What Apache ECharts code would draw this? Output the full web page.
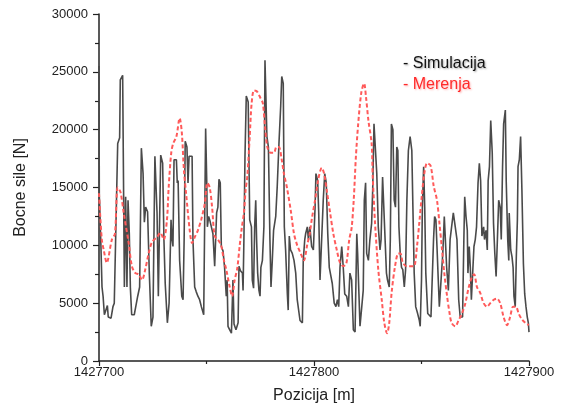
<!DOCTYPE html>
<html>
<head>
<meta charset="utf-8">
<script src="https://cdn.jsdelivr.net/npm/echarts@6/dist/echarts.min.js"></script>
<style>
html,body{margin:0;padding:0;background:#fff;}
#chart{width:561px;height:417px;}
</style>
</head>
<body>
<div id="chart"></div>
<script>
// Position base [m] and tick labels
const positionStart = 1427700;
const xTicks = [1427700, 1427800, 1427900];
const yTicks = [0, 5000, 10000, 15000, 20000, 25000, 30000];

// Simulacija: offsets from positionStart [m] and lateral force [N]
const simOffsetM = [0,0.15,0.3,0.9,1.4,1.9,2.5,3.4,3.9,4.3,5.6,6.5,7.1,8.7,9.6,9.9,11.0,11.8,12.4,13.0,13.5,14.1,14.6,15.2,16.4,17.1,18.0,18.9,19.7,20.5,21.1,21.7,22.6,23.4,24.3,25.1,26.0,27.0,27.6,28.2,28.7,29.6,30.2,30.8,31.8,32.6,33.5,
34.0,34.4,34.9,36.0,36.4,36.8,37.5,38.5,39.1,39.6,40.1,40.9,41.4,41.9,43.3,43.7,44.5,45.2,46.0,46.8,47.6,48.7,49.1,49.6,50.1,50.4,51.0,51.5,52.3,53.0,53.8,54.3,54.7,55.3,55.8,56.4,56.9,57.7,58.4,59.2,59.6,60.0,60.8,61.6,62.3,62.8,63.7,64.7,65.1,65.8,
66.7,67.0,67.4,67.9,68.5,69.4,70.1,70.9,71.3,71.9,72.4,72.9,73.3,73.8,74.4,74.9,75.3,76.0,76.7,77.2,78.1,78.8,79.5,80.0,80.6,81.2,82.2,82.9,83.7,84.5,85.0,85.7,86.2,86.8,87.6,88.0,88.5,89.1,89.9,90.7,91.5,92.2,93.0,93.5,94.6,95.0,95.7,96.1,96.9,97.4,98.1,98.9,
99.7,100.5,100.9,101.7,102.2,102.8,103.7,104.3,105.0,105.7,106.4,107.1,107.9,108.5,109.4,110.2,110.9,111.5,112.1,112.9,113.6,114.3,115.2,116.0,116.7,117.5,118.3,119.1,119.9,120.3,120.9,121.4,122.2,122.9,123.4,124.0,124.5,125.3,126.0,126.8,127.3,127.9,128.7,129.2,129.9,130.7,131.2,131.9,132.7,
133.7,134.2,135.0,135.5,136.0,136.7,137.3,137.9,138.5,139.0,139.5,140.1,140.7,141.3,142.0,142.6,143.2,143.9,144.7,145.5,146.0,146.6,147.3,148.2,149.0,149.4,150.0,150.4,151.0,151.5,152.0,152.9,154.4,155.2,155.6,156.1,156.7,157.2,157.8,158.3,159.1,159.9,160.6,161.1,161.7,162.5,163.3,164.0,164.8,
165.7,166.5,167.3,168.0,169.1,169.7,170.1,170.7,171.3,171.6,172.2,172.7,173.2,173.8,174.4,175.0,175.6,176.3,176.9,177.5,178.1,178.9,179.3,180.0,180.6,181.0,181.6,182.2,182.9,183.5,184.1,184.7,185.3,185.9,186.6,187.1,187.7,188.2,189.0,189.4,190.1,190.6,190.8,191.5,192.1,192.6,193.0,193.6,194.1,194.6,194.9,195.5,196.1,196.7,197.4,198.0,198.6,199.2,199.7,200];
const simForceN = [25500,14200,13600,9900,6400,5600,4000,3900,4800,3800,3700,4700,5000,18800,19300,24300,24700,6400,14200,6400,13900,11000,6300,4000,4000,4700,5600,6400,18400,16200,12000,13300,12900,7600,3000,3800,17700,12800,5600,5600,17800,17100,10500,6700,3300,5000,12200,
10500,9900,17400,17400,15400,15600,8700,5600,5300,10500,19000,18500,15400,17700,17700,10500,6400,6000,5600,5300,4700,4000,3900,20100,15700,11600,12500,12200,12300,11000,8200,8200,12800,13300,15700,15400,9900,9500,8100,5600,7000,3000,2700,2400,7000,3200,2700,3300,8200,7800,
7600,6100,10500,17700,22900,22400,12200,11600,7000,6300,11600,13900,10500,7600,6100,5600,8100,8700,11600,26000,19400,18500,10500,6400,8700,11300,12500,15100,18800,22000,24600,24000,11600,9600,5800,4400,10800,9600,9300,8700,7600,5300,5300,3500,3300,8700,10500,11000,11600,10500,11600,9900,
9600,13300,16200,15600,12800,7000,7000,13900,16200,15400,11000,8100,8100,6700,5000,4700,5300,4700,8100,9900,8100,5800,5600,4700,7600,7000,2700,2500,11000,9300,5800,3000,3000,6100,13900,15400,9300,8700,10500,11900,14800,20500,20500,16200,11600,9600,10500,15900,15900,
7600,7000,6400,10500,20500,20000,13900,13300,18500,18200,11600,9300,8100,7900,6400,7900,13900,18200,19400,18200,13300,7600,4700,4100,3500,3000,7000,13300,16800,13300,7600,4100,3800,3800,10500,12500,12200,9900,7000,4700,4700,9300,12500,10500,8100,6100,10500,11600,12800,
11600,10500,5300,3800,3800,10500,14200,12500,11300,7600,9900,8100,5300,5300,9900,10500,11600,15400,17100,15600,10800,11600,10500,11300,9600,15600,16800,20800,18000,11900,9300,7300,10500,13900,13300,10500,16800,20500,21700,15600,10500,8700,12800,9600,9000,8100,5600,4700,9000,12200,16800,17400,19400,14800,8400,5800,4700,3800,3300,2500];

// Merenja: offsets from positionStart [m] and lateral force [N]
const measOffsetM = [0,1.3,2.2,3.6,6.0,7.4,8.7,10,11.5,13.8,15.3,16.9,18.5,20.0,21.5,23.1,24.7,27.0,28.5,30.1,31.6,32.4,33.6,34.5,36.0,37.5,38.5,39.5,40.5,42.2,43.3,44.5,46.0,47.5,49.2,50.4,51.5,52.6,53.8,55.3,56.8,58.1,59.2,60.8,61.9,63.1,64.3,65.4,66.4,67.4,68.2,69.0,70.1,71.0,72.1,73.5,75.2,76.2,77.2,78.3,79.8,81.4,82.5,83.7,84.9,86.0,87.4,89.2,90.7,92.2,93.8,95.3,96.8,98.0,99.0,100.5,102.0,103.6,104.7,105.9,107.5,109.0,110.6,112.1,113.6,115.0,116.4,117.5,118.5,119.5,120.6,122.0,123.3,124.2,125.3,126.8,127.3,128.4,129.9,131.5,132.7,134.0,135.0,136.1,137.7,139.2,140.2,141.3,143.0,145.1,146.5,147.9,149.0,150.1,151.3,152.6,154.2,155.7,157.2,158.3,159.4,160.6,161.9,163.0,164.0,165.7,167.2,168.8,170.4,172.0,173.5,174.5,175.8,177.3,178.9,180.5,182.0,183.6,185.1,186.6,188.2,189.8,191.2,192.6,193.9,195.2,196.7,198.3,199.9];
const measForceN = [14500,10500,9600,8500,10500,11000,15000,14600,12800,10200,8200,7600,7500,7000,7900,9300,10300,10700,11100,10500,12200,15000,18000,18800,19400,21000,19800,16500,14500,11300,10200,10700,11300,12200,13600,15400,15000,13300,10800,10500,10000,8700,7900,6400,5600,7000,8000,9900,11500,12800,14800,16000,19400,22300,23400,23300,22700,22300,20300,18500,18000,18000,18500,18500,17500,16200,15000,13000,11000,10000,9300,8700,10000,11000,12300,13900,15700,16700,16200,14800,12800,11000,9600,8500,8200,8400,10500,11500,14000,17700,20600,23200,24000,22800,20800,18800,16000,11900,7900,5300,3300,2400,3300,5900,8200,9300,9300,8500,8200,8200,8200,9900,12000,14200,16200,17100,16900,15100,13900,12000,9900,7600,5600,4200,3300,3000,3500,4100,5000,6400,7300,7500,6400,5900,5000,4700,5000,5300,5400,5000,3800,3100,3800,4700,4700,4100,3600,3300,3100];

const simData = simOffsetM.map((d, i) => [positionStart + d, simForceN[i]]);
const measData = measOffsetM.map((d, i) => [positionStart + d, measForceN[i]]);

const FONT = '"Liberation Sans", Arial, sans-serif';
const plain = v => String(Math.round(v));
const chart = echarts.init(document.getElementById('chart'), null, {renderer: 'canvas'});
chart.setOption({
  animation: false,
  backgroundColor: '#ffffff',
  grid: {left: 99, right: 32, top: 14, bottom: 56},
  xAxis: {
    type: 'value',
    min: xTicks[0], max: xTicks[xTicks.length - 1], interval: 100,
    name: 'Pozicija [m]', nameLocation: 'middle', nameGap: 27,
    nameTextStyle: {fontFamily: FONT, fontSize: 16, color: '#222'},
    axisLine: {show: true, onZero: false, lineStyle: {color: '#222', width: 1.5}},
    axisTick: {show: true, inside: false, length: 5, lineStyle: {color: '#222', width: 1.2}},
    minorTick: {show: true, splitNumber: 2, length: 3, lineStyle: {color: '#222', width: 1.2}},
    axisLabel: {fontFamily: FONT, fontSize: 13, color: '#222', margin: 5, formatter: plain},
    splitLine: {show: false}
  },
  yAxis: {
    type: 'value',
    min: yTicks[0], max: yTicks[yTicks.length - 1], interval: 5000,
    name: 'Bocne sile [N]', nameLocation: 'middle', nameGap: 70, nameRotate: 90,
    nameTextStyle: {fontFamily: FONT, fontSize: 16, color: '#222'},
    axisLine: {show: true, onZero: false, lineStyle: {color: '#222', width: 1.5}},
    axisTick: {show: true, inside: false, length: 6, lineStyle: {color: '#222', width: 1.2}},
    minorTick: {show: true, splitNumber: 2, length: 4, lineStyle: {color: '#222', width: 1.2}},
    axisLabel: {fontFamily: FONT, fontSize: 13, color: '#222', margin: 11, formatter: plain},
    splitLine: {show: false}
  },
  series: [
    {
      name: 'Simulacija', type: 'line', data: simData,
      showSymbol: false, symbol: 'none', smooth: false,
      lineStyle: {color: '#4a4a4a', width: 1.6},
      z: 2
    },
    {
      name: 'Merenja', type: 'line', data: measData,
      showSymbol: false, symbol: 'none', smooth: 0.3,
      lineStyle: {color: '#ff5a5a', width: 2, type: [4, 2.5]},
      z: 3
    }
  ],
  graphic: [
    {type: 'text', left: 403, top: 56, style: {text: '- Simulacija', font: '16px ' + FONT, fill: '#111', textShadowColor: 'rgba(0,0,0,0.35)', textShadowBlur: 2, textShadowOffsetX: 1, textShadowOffsetY: 1}},
    {type: 'text', left: 403, top: 77, style: {text: '- Merenja', font: '16px ' + FONT, fill: '#ff2a2a', textShadowColor: 'rgba(255,0,0,0.3)', textShadowBlur: 2, textShadowOffsetX: 1, textShadowOffsetY: 1}}
  ]
});
</script>
</body>
</html>
